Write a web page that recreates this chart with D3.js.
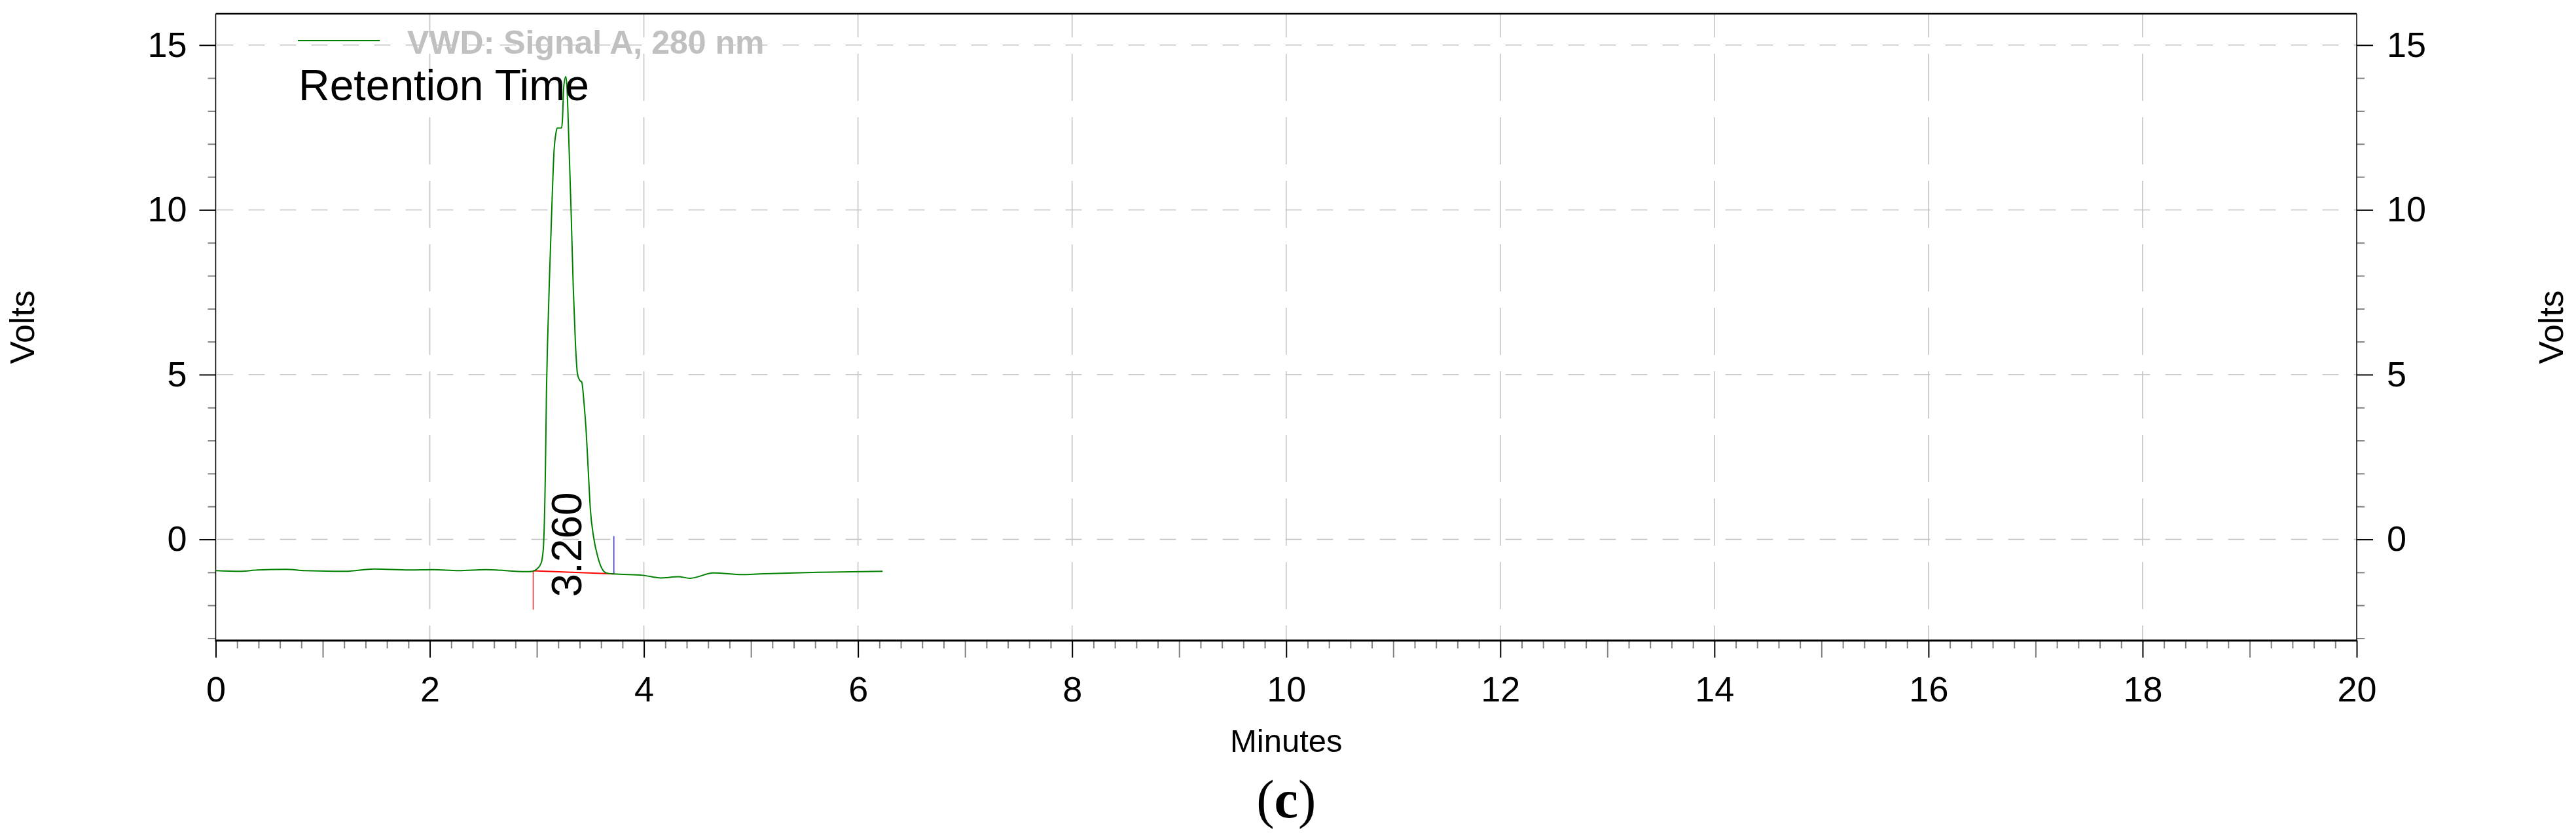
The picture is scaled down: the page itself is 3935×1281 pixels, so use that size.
<!DOCTYPE html>
<html>
<head>
    <meta charset="utf-8">
    <title>VWD Signal A, 280 nm</title>
    <script src="https://d3js.org/d3.v7.min.js"></script>
    <style>
        html, body {
            margin: 0;
            background: white;
        }
        svg text {
            font-family: "Liberation Sans", Arial, sans-serif;
        }
    </style>
</head>
<body>
    <svg id="svg"></svg>
    <script>
        // chromatogram trace (minutes, volts)
        const minutes = [0.00, 0.23, 0.39, 0.66, 0.83, 1.21, 1.48, 1.81, 2.03, 2.27, 2.52, 2.90, 2.96,
            3.00, 3.04, 3.06, 3.08, 3.09, 3.10, 3.12, 3.14, 3.16, 3.18, 3.19, 3.23, 3.24, 3.25, 3.27,
            3.28, 3.30, 3.32, 3.34, 3.36, 3.38, 3.40, 3.42, 3.44, 3.46, 3.48, 3.50, 3.53, 3.57, 3.61,
            3.65, 3.72, 3.99, 4.16, 4.32, 4.43, 4.65, 4.92, 5.08, 5.63, 6.23];
        const volts = [-0.95, -0.97, -0.93, -0.91, -0.95, -0.97, -0.90, -0.93, -0.92, -0.95, -0.92, -0.98, -0.97,
            -0.90, -0.72, -0.30, 2.11, 4.52, 5.97, 8.14, 10.07, 11.75, 12.36, 12.48, 12.48, 12.78, 13.68, 14.04,
            13.80, 11.99, 9.95, 7.66, 5.97, 5.01, 4.83, 4.77, 4.16, 3.32, 2.11, 0.91, 0.07, -0.54, -0.90,
            -1.02, -1.05, -1.09, -1.17, -1.13, -1.18, -1.02, -1.07, -1.05, -1.00, -0.97];

        // integration marks
        const peakTimes = [3.260];
        const baselineStart = [2.965, -0.955];
        const baselineEnd = [3.72, -1.05];
        const startMarkLow = -2.13;
        const endMarkHigh = 0.10;

        const xTicks = [0, 2, 4, 6, 8, 10, 12, 14, 16, 18, 20];
        const yTicks = [0, 5, 10, 15];
        const xDomain = [0, 20];
        const yDomain = [-3.07, 15.95];

        const legendLabel = "VWD: Signal A, 280 nm";
        const annotationTitle = "Retention Time";
        const xTitle = "Minutes";
        const yTitle = "Volts";

        const W = 3935, H = 1281;
        const plot = { left: 329.5, right: 3600, top: 21, bottom: 978 };

        const svg = d3.select("#svg")
            .attr("width", W)
            .attr("height", H);

        svg.append("rect").attr("width", W).attr("height", H).attr("fill", "white");

        const x = d3.scaleLinear().domain(xDomain).range([plot.left, plot.right]);
        const y = d3.scaleLinear().domain(yDomain).range([plot.bottom, plot.top]);

        // grid
        const grid = svg.append("g");
        grid.selectAll(".hgrid")
            .data(yTicks)
            .enter().append("line")
            .attr("x1", plot.left).attr("x2", plot.right)
            .attr("y1", d => y(d)).attr("y2", d => y(d))
            .attr("stroke", "#c0c0c0")
            .attr("stroke-width", 1.5)
            .attr("stroke-dasharray", "25,23")
            .attr("stroke-dashoffset", 46);

        grid.selectAll(".vgrid")
            .data(xTicks.filter(d => d > 0 && d < 20))
            .enter().append("line")
            .attr("x1", d => x(d)).attr("x2", d => x(d))
            .attr("y1", plot.top).attr("y2", plot.bottom)
            .attr("stroke", "#c0c0c0")
            .attr("stroke-width", 1.5)
            .attr("stroke-dasharray", "72,25")
            .attr("stroke-dashoffset", 36);

        // axes
        const minorY = d3.range(-3, 16).filter(v => !yTicks.includes(v));
        const minorX = d3.range(0, 201, 2).map(v => v / 10).filter(v => v % 1 !== 0);
        const oddX = d3.range(1, 20, 2);

        function styleAxis(g, color, width, fontSize) {
            g.select(".domain").remove();
            g.selectAll(".tick line").attr("stroke", color).attr("stroke-width", width);
            g.selectAll(".tick text")
                .attr("fill", "black")
                .style("font-size", fontSize + "px")
                .style("font-family", "'Liberation Sans', Arial, sans-serif");
        }

        svg.append("g")
            .attr("transform", `translate(${plot.left},0)`)
            .call(d3.axisLeft(y).tickValues(minorY).tickSize(12).tickFormat(""))
            .call(g => styleAxis(g, "#808080", 2, 0));
        svg.append("g")
            .attr("transform", `translate(${plot.left},0)`)
            .call(d3.axisLeft(y).tickValues(yTicks).tickSize(25).tickPadding(19).tickFormat(d3.format("d")))
            .call(g => styleAxis(g, "black", 2, 54));

        svg.append("g")
            .attr("transform", `translate(${plot.right},0)`)
            .call(d3.axisRight(y).tickValues(minorY).tickSize(12).tickFormat(""))
            .call(g => styleAxis(g, "#808080", 2, 0));
        svg.append("g")
            .attr("transform", `translate(${plot.right},0)`)
            .call(d3.axisRight(y).tickValues(yTicks).tickSize(25).tickPadding(21).tickFormat(d3.format("d")))
            .call(g => styleAxis(g, "black", 2, 54));

        svg.append("g")
            .attr("transform", `translate(0,${plot.bottom})`)
            .call(d3.axisBottom(x).tickValues(minorX).tickSize(12).tickFormat(""))
            .call(g => styleAxis(g, "#808080", 2, 0));
        svg.append("g")
            .attr("transform", `translate(0,${plot.bottom})`)
            .call(d3.axisBottom(x).tickValues(oddX).tickSize(26).tickFormat(""))
            .call(g => styleAxis(g, "#808080", 2, 0));
        svg.append("g")
            .attr("transform", `translate(0,${plot.bottom})`)
            .call(d3.axisBottom(x).tickValues(xTicks).tickSize(26).tickPadding(29).tickFormat(d3.format("d")))
            .call(g => styleAxis(g, "black", 2, 54));

        // frame
        const frame = svg.append("g").attr("stroke", "black").attr("fill", "none");
        frame.append("line").attr("x1", plot.left).attr("x2", plot.right)
            .attr("y1", plot.top).attr("y2", plot.top).attr("stroke-width", 2.5);
        frame.append("line").attr("x1", plot.left).attr("x2", plot.left)
            .attr("y1", plot.top).attr("y2", plot.bottom).attr("stroke-width", 1.5);
        frame.append("line").attr("x1", plot.right).attr("x2", plot.right)
            .attr("y1", plot.top).attr("y2", plot.bottom).attr("stroke-width", 1.5);
        frame.append("line").attr("x1", plot.left - 1).attr("x2", plot.right + 1)
            .attr("y1", plot.bottom).attr("y2", plot.bottom).attr("stroke-width", 3);

        // axis titles
        svg.append("text")
            .attr("x", (plot.left + plot.right) / 2)
            .attr("y", 1148)
            .attr("text-anchor", "middle")
            .style("font-size", "49px")
            .text(xTitle);

        svg.append("text")
            .attr("transform", `translate(52,${(plot.top + plot.bottom) / 2}) rotate(-90)`)
            .attr("text-anchor", "middle")
            .style("font-size", "52px")
            .text(yTitle);

        svg.append("text")
            .attr("transform", `translate(3915,${(plot.top + plot.bottom) / 2}) rotate(-90)`)
            .attr("text-anchor", "middle")
            .style("font-size", "52px")
            .text(yTitle);

        // trace
        const trace = minutes.map((m, i) => [m, volts[i]]);
        const line = d3.line()
            .curve(d3.curveMonotoneX)
            .x(d => x(d[0]))
            .y(d => y(d[1]));

        // baseline + marks
        svg.append("line")
            .attr("x1", x(baselineStart[0])).attr("y1", y(baselineStart[1]))
            .attr("x2", x(baselineEnd[0])).attr("y2", y(baselineEnd[1]))
            .attr("stroke", "red").attr("stroke-width", 2);
        svg.append("line")
            .attr("x1", x(baselineStart[0])).attr("y1", y(baselineStart[1]))
            .attr("x2", x(baselineStart[0])).attr("y2", y(startMarkLow))
            .attr("stroke", "red").attr("stroke-width", 1.2);
        svg.append("line")
            .attr("x1", x(baselineEnd[0])).attr("y1", y(endMarkHigh))
            .attr("x2", x(baselineEnd[0])).attr("y2", y(baselineEnd[1]))
            .attr("stroke", "blue").attr("stroke-width", 1.2);

        svg.append("path")
            .datum(trace)
            .attr("fill", "none")
            .attr("stroke", "#008000")
            .attr("stroke-width", 2)
            .attr("d", line);

        svg.selectAll(".peak")
            .data(peakTimes)
            .enter().append("text")
            .attr("transform", d => `translate(${x(d) + 25},${y(-1.75)}) rotate(-90)`)
            .attr("text-anchor", "start")
            .style("font-size", "64px")
            .text(d => d.toFixed(3));

        // legend
        svg.append("line")
            .attr("x1", 455).attr("x2", 580)
            .attr("y1", 62).attr("y2", 62)
            .attr("stroke", "#008000").attr("stroke-width", 2);
        svg.append("text")
            .attr("x", 622).attr("y", 82)
            .attr("fill", "#c0c0c0")
            .style("font-size", "50px")
            .style("font-weight", "bold")
            .text(legendLabel);

        svg.append("text")
            .attr("x", 456).attr("y", 153)
            .attr("fill", "black")
            .style("font-size", "66px")
            .text(annotationTitle);

        // caption
        const caption = svg.append("text")
            .attr("x", (plot.left + plot.right) / 2)
            .attr("y", 1248)
            .attr("text-anchor", "middle")
            .style("font-family", "'Liberation Serif', 'Times New Roman', serif")
            .style("font-size", "82px");
        caption.append("tspan").text("(");
        caption.append("tspan").style("font-weight", "bold").text("c");
        caption.append("tspan").text(")");
    </script>
</body>
</html>
